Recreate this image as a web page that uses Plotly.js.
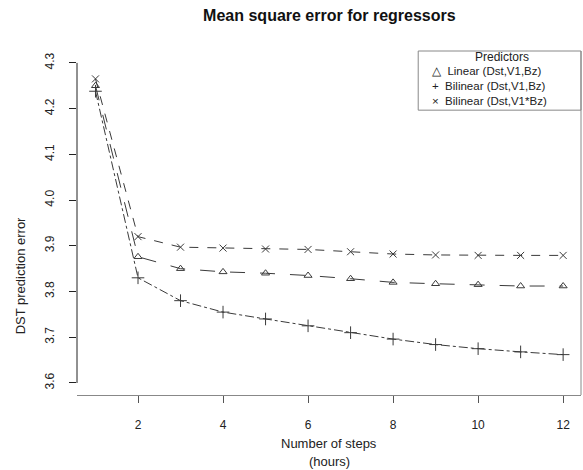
<!DOCTYPE html>
<html>
<head>
<meta charset="utf-8">
<script src="https://cdn.plot.ly/plotly-3.0.1.min.js"></script>
<style>html,body{margin:0;padding:0;background:#fff;}#chart{width:583px;height:470px;}</style>
</head>
<body>
<div id="chart"></div>
<script>
// ---- data ----
var steps = [1, 2, 3, 4, 5, 6, 7, 8, 9, 10, 11, 12];
var linearDstV1Bz = [4.250, 3.876, 3.850, 3.843, 3.840, 3.835, 3.828, 3.820, 3.817, 3.815, 3.812, 3.812];
var bilinearDstV1Bz = [4.238, 3.830, 3.780, 3.755, 3.740, 3.725, 3.710, 3.696, 3.684, 3.675, 3.668, 3.662];
var bilinearDstV1xBz = [4.265, 3.920, 3.897, 3.895, 3.893, 3.892, 3.887, 3.882, 3.880, 3.879, 3.879, 3.879];
var seriesNames = ["Linear (Dst,V1,Bz)", "Bilinear (Dst,V1,Bz)", "Bilinear (Dst,V1*Bz)"];
var seriesSymbolsText = ["\u25B3", "+", "\u00D7"];
var xTicks = [2, 4, 6, 8, 10, 12];
var yTicks = [3.6, 3.7, 3.8, 3.9, 4.0, 4.1, 4.2, 4.3];

var ink = "#3a3a3a";
function tr(y, name, sym, dash, size) {
  return {
    x: steps, y: y, name: name, type: "scatter", mode: "lines+markers",
    showlegend: false, hoverinfo: "skip",
    line: {color: ink, width: 1, dash: dash},
    marker: {symbol: sym, size: size, color: ink, line: {color: ink, width: 1}}
  };
}
var data = [
  tr(linearDstV1Bz, seriesNames[0], "triangle-up-open", "longdash", 7),
  tr(bilinearDstV1Bz, seriesNames[1], "cross-thin-open", "dashdot", 9),
  tr(bilinearDstV1xBz, seriesNames[2], "x-thin-open", "dash", 7)
];

var font = "Liberation Sans, Arial, sans-serif";
var legendLines = seriesNames.map(function (n, i) { return seriesSymbolsText[i] + "  " + n; });
var ann = [
  {text: "DST prediction error", xref: "paper", yref: "paper", x: -0.113, y: 0.345, textangle: -90,
   xanchor: "center", yanchor: "middle",
   showarrow: false, font: {family: font, size: 13, color: "#222"}},
  {text: "Number of steps", xref: "paper", yref: "paper", x: 0.5, y: -0.142, xanchor: "center", yanchor: "middle",
   showarrow: false, font: {family: font, size: 13, color: "#222"}},
  {text: "(hours)", xref: "paper", yref: "paper", x: 0.5, y: -0.192, xanchor: "center", yanchor: "middle",
   showarrow: false, font: {family: font, size: 13, color: "#222"}},
  {text: "Predictors", xref: "paper", yref: "paper", x: 0.843, y: 0.983, xanchor: "center", yanchor: "middle",
   borderpad: 0, showarrow: false, font: {family: font, size: 12, color: "#222"}},
  {text: legendLines.join("<br>"), xref: "paper", yref: "paper", x: 0.703, y: 0.898,
   xanchor: "left", yanchor: "middle", align: "left", borderpad: 0, showarrow: false,
   font: {family: font, size: 11.5, color: "#222"}}
];

var layout = {
  width: 583, height: 470,
  margin: {l: 77, r: 2, t: 51, b: 75, pad: 0},
  paper_bgcolor: "#fff", plot_bgcolor: "#fff",
  title: {text: "<b>Mean square error for regressors</b>", x: 0.565, xanchor: "center",
          y: 0.968, yanchor: "middle", font: {family: font, size: 16, color: "#111"}},
  showlegend: false,
  xaxis: {range: [0.565, 12.42], tickvals: xTicks, ticks: "outside", ticklen: 7, tickcolor: "#555",
          showline: true, linecolor: "#888", linewidth: 1, showgrid: false, zeroline: false,
          ticklabelstandoff: 12, tickfont: {family: font, size: 12, color: "#222"}},
  yaxis: {range: [3.5737, 4.326], tickvals: yTicks, tickformat: ".1f", ticks: "outside", ticklen: 7,
          tickcolor: "#222", showline: false, showgrid: false, zeroline: false, tickangle: -90,
          ticklabelstandoff: 10, tickfont: {family: font, size: 12, color: "#222"}},
  shapes: [
    {type: "line", xref: "paper", yref: "y", x0: 0, x1: 0, y0: 3.6, y1: 4.3, line: {color: "#222", width: 1}},
    {type: "line", xref: "paper", yref: "paper", x0: 1, x1: 1, y0: 0, y1: 1, line: {color: "#888", width: 1}},
    {type: "rect", xref: "paper", yref: "paper", x0: 0.677, x1: 1, y0: 0.828, y1: 1, line: {color: "#888", width: 1}}
  ],
  annotations: ann
};
Plotly.newPlot("chart", data, layout, {staticPlot: true});
</script>
</body>
</html>
